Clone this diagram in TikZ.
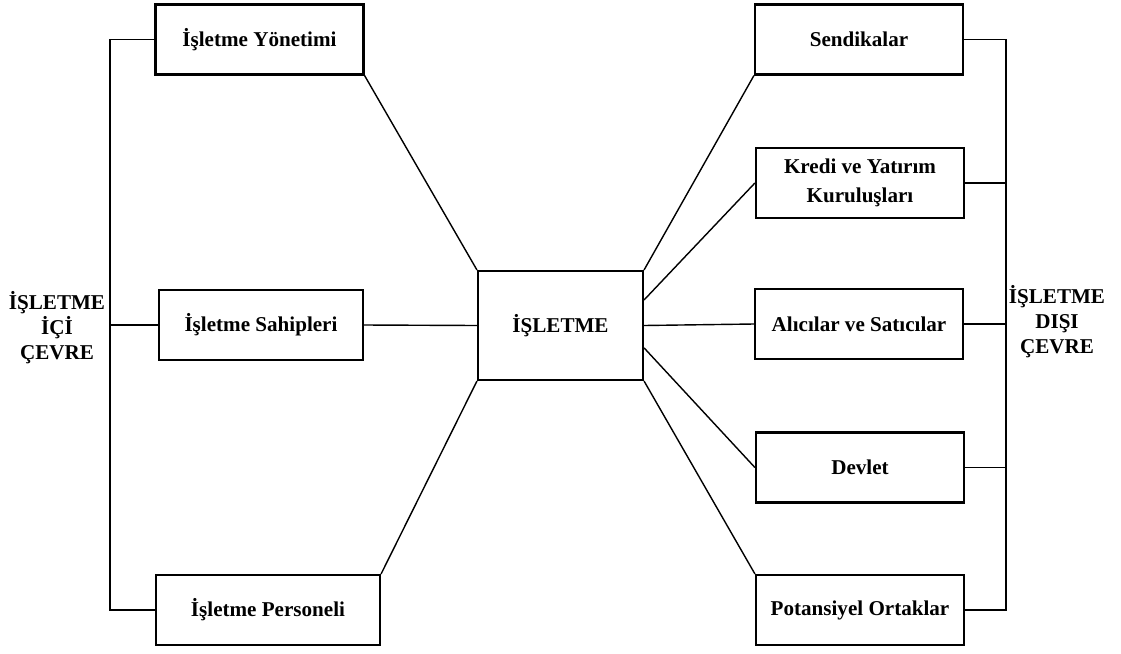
\documentclass[tikz,border=0pt]{standalone}
\usepackage{fontspec}
\setmainfont{Liberation Serif}
\usetikzlibrary{positioning}

\begin{document}
\begin{tikzpicture}[x = 0.025cm, y = -0.025cm,
                kutu/.style = {draw, black, line width = 1.5pt, inner sep = 0pt, minimum width = 5.2cm, minimum height = 1.75cm, align = center, font = \bfseries\fontsize{15}{21}\selectfont},
                baglanti/.style = {black, line width = 1pt},
                etiket/.style = {align = center, inner sep = 0pt, font = \bfseries\fontsize{15}{17.8}\selectfont}]
                \useasboundingbox (0,0) rectangle (1121,653);
                \node[kutu] (yonetim) at (259.5,39.5) {İşletme Yönetimi};
                \node[kutu, minimum width = 5.1cm] (sahip) at (261,325) {İşletme Sahipleri};
                \node[kutu, minimum width = 5.6cm] (personel) at (268,610) {İşletme Personeli};
                \node[kutu, minimum width = 4.125cm, minimum height = 2.725cm] (isletme) at (560.5,325.5) {İŞLETME};
                \node[kutu] (sendika) at (859,39.5) {Sendikalar};
                \node[kutu] (kredi) at (860,183) {Kredi ve Yatırım\\Kuruluşları};
                \node[kutu] (alici) at (859,324) {Alıcılar ve Satıcılar};
                \node[kutu] (devlet) at (860,467.5) {Devlet};
                \node[kutu] (ortak) at (860,610) {Potansiyel Ortaklar};
                \node[etiket] (ic) at (57,328) {İŞLETME\\İÇİ\\ÇEVRE};
                \node[etiket] (dis) at (1057,322) {İŞLETME\\DIŞI\\ÇEVRE};
                \coordinate (sol) at (110,325);
                \coordinate (sag) at (1006,325);
                \draw[baglanti] (yonetim.west) -| (sol) |- (personel.west);
                \draw[baglanti] (sahip.west) -- (sol);
                \draw[baglanti] (sendika.east) -| (sag) |- (ortak.east);
                \draw[baglanti] (kredi.east) -- (kredi.east -| sag);
                \draw[baglanti] (alici.east) -- (alici.east -| sag);
                \draw[baglanti] (devlet.east) -- (devlet.east -| sag);
                \draw[baglanti] (yonetim.south east) -- (isletme.north west);
                \draw[baglanti] (sahip.east) -- (isletme.west);
                \draw[baglanti] (personel.north east) -- (isletme.south west);
                \draw[baglanti] (sendika.south west) -- (isletme.north east);
                \draw[baglanti] (kredi.west) -- (isletme.17);
                \draw[baglanti] (alici.west) -- (isletme.east);
                \draw[baglanti] (devlet.west) -- (isletme.-15);
                \draw[baglanti] (ortak.north west) -- (isletme.south east);
            \end{tikzpicture}
\end{document}
